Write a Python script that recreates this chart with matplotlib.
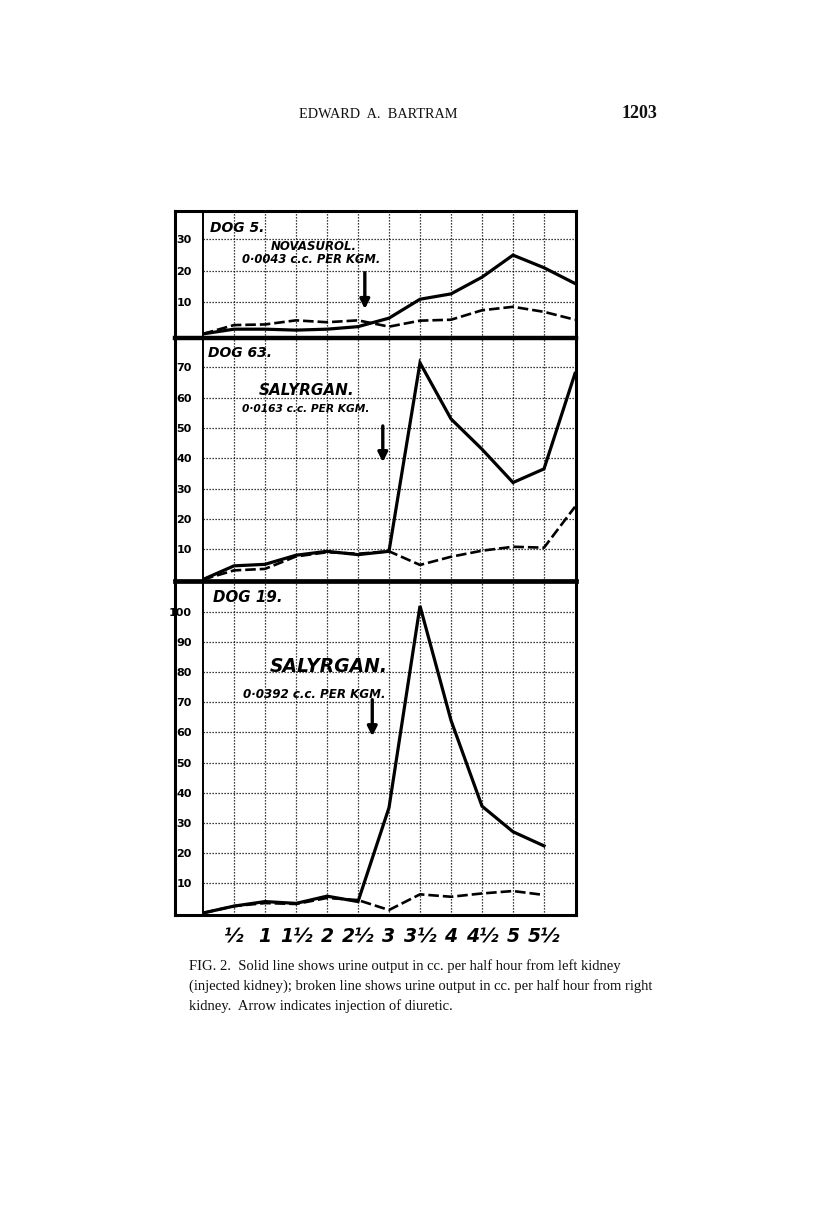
import matplotlib
matplotlib.use("Agg")
from matplotlib import pyplot as plt
from matplotlib.lines import Line2D
from matplotlib.transforms import Affine2D

# half-hour periods
hours = [0, 0.5, 1, 1.5, 2, 2.5, 3, 3.5, 4, 4.5, 5, 5.5, 6]
hour_labels = ['½', '1', '1½', '2', '2½', '3', '3½', '4', '4½', '5', '5½']

# Dog 5 - Novasurol
dog5_left = [0, 1.5, 1.5, 1.2, 1.5, 2.3, 5, 11, 12.7, 18, 25, 21, 16]
dog5_right = [0, 2.8, 3, 4.3, 3.7, 4.3, 2.3, 4.2, 4.5, 7.5, 8.6, 7, 4.5]

# Dog 63 - Salyrgan
dog63_left = [0, 4.5, 5, 8, 9.3, 8.2, 9.3, 71.5, 53, 43, 32, 36.5, 68]
dog63_right = [0, 3, 3.5, 7.6, 9, 8.5, 9.3, 4.8, 7.5, 9.5, 10.8, 10.5, 24]

# Dog 19 - Salyrgan (stops at 5 1/2)
dog19_left = [0, 2.3, 3.8, 3.2, 5.6, 3.8, 35, 102, 64, 35.5, 27, 22.3]
dog19_right = [0, 2.3, 3.3, 3, 5, 4.3, 1, 6.2, 5.4, 6.5, 7.3, 6]

W, H = 816, 1207
fig = plt.figure(figsize=(W / 100, H / 100), dpi=100)
fig.patch.set_facecolor('white')
# pixel coordinates, origin top-left
px = Affine2D().scale(1 / W, -1 / H).translate(0, 1) + fig.transFigure


def box(x0, y0, x1, y1):
    return [x0 / W, 1 - y1 / H, (x1 - x0) / W, (y1 - y0) / H]


hand = dict(family='DejaVu Sans', weight='bold', style='italic', color='black')

panels = [
    dict(rows=(211, 338), ylim=(-1.3, 39), yt=[10, 20, 30],
         left=dog5_left, right=dog5_right, dog='DOG 5.', dog_size=10,
         drug='NOVASUROL.', drug_size=8.5,
         dose='0·0043 c.c. PER KGM.', dose_size=8.3, arrow=(2.61, 20.3, 7.0),
         dog_xy=(0.12, 31.5), drug_xy=(1.1, 27.7), dose_xy=(0.63, 23.5)),
    dict(rows=(338, 581), ylim=(-0.5, 79.7), yt=[10, 20, 30, 40, 50, 60, 70],
         left=dog63_left, right=dog63_right, dog='DOG 63.', dog_size=10,
         drug='SALYRGAN.', drug_size=11,
         dose='0·0163 c.c. PER KGM.', dose_size=7.7, arrow=(2.9, 51.6, 37.8),
         dog_xy=(0.08, 72.5), drug_xy=(0.9, 62.5), dose_xy=(0.63, 56.3)),
    dict(rows=(581, 915), ylim=(-0.66, 110.3), yt=list(range(10, 101, 10)),
         left=dog19_left, right=dog19_right, dog='DOG 19.', dog_size=10.8,
         drug='SALYRGAN.', drug_size=13.5,
         dose='0·0392 c.c. PER KGM.', dose_size=8.6, arrow=(2.73, 71.8, 57.8),
         dog_xy=(0.16, 102.3), drug_xy=(1.08, 82), dose_xy=(0.64, 72.5)),
]

axes = []
for i, p in enumerate(panels):
    ax = fig.add_axes(box(203, p['rows'][0], 575, p['rows'][1]))
    ax.set_xlim(0, 6)
    ax.set_ylim(*p['ylim'])
    n = len(p['left'])
    ax.plot(hours[:n], p['left'], color='black', lw=2.3, solid_joinstyle='miter')
    ax.plot(hours[:n], p['right'], color='black', lw=1.9, linestyle=(0, (4, 1.5)))
    ax.set_xticks(hours[1:-1])
    ax.set_yticks(p['yt'])
    ax.set_yticklabels([str(v) for v in p['yt']], fontsize=8, fontweight='bold')
    ax.grid(True, linestyle=(0, (1, 1.4)), color='black', lw=0.9)
    ax.tick_params(axis='y', length=0, pad=8)
    ax.tick_params(axis='x', length=0, pad=9)
    if i < 2:
        ax.set_xticklabels([])
    else:
        ax.set_xticklabels(hour_labels, fontsize=13.5, fontweight='bold', style='italic')
    for s in ax.spines.values():
        s.set_visible(False)
    ax.set_facecolor('none')

    ax.text(*p['dog_xy'], p['dog'], fontsize=p['dog_size'], ha='left', va='bottom', **hand)
    ax.text(*p['drug_xy'], p['drug'], fontsize=p['drug_size'], ha='left', va='center', **hand)
    ax.text(*p['dose_xy'], p['dose'], fontsize=p['dose_size'], ha='left', va='center', **hand)
    ax_x, y0, y1 = p['arrow']
    ax.annotate('', xy=(ax_x, y1), xytext=(ax_x, y0),
                arrowprops=dict(arrowstyle='-|>', lw=2.4, color='black', mutation_scale=14))
    axes.append(ax)

# frame of the figure: outer box, panel dividers and label column
frame = [((175, 211), (576, 211), 2.2), ((175, 915), (576, 915), 2.2),
         ((175, 211), (175, 915), 2.2), ((576, 211), (576, 915), 2.2),
         ((175, 338), (576, 338), 3.2), ((175, 581), (576, 581), 3.4),
         ((203, 211), (203, 915), 1.4)]
for (x0, y0), (x1, y1), lw in frame:
    fig.add_artist(Line2D([x0, x1], [y0, y1], transform=px, color='black', lw=lw,
                          solid_capstyle='projecting'))

# page header
serif = 'Liberation Serif'
fig.text(378, 114, 'EDWARD  A.  BARTRAM', transform=px, ha='center', va='center',
         family=serif, fontsize=10.3, color='#111111')
fig.text(657, 114, '1203', transform=px, ha='right', va='center',
         family=serif, fontsize=13, fontweight='bold', color='#111111')

# caption
caption = ['FIG. 2.  Solid line shows urine output in cc. per half hour from left kidney',
           '(injected kidney); broken line shows urine output in cc. per half hour from right',
           'kidney.  Arrow indicates injection of diuretic.']
for k, line in enumerate(caption):
    fig.text(189, 966 + 20 * k, line, transform=px, ha='left', va='center',
             family=serif, fontsize=10.5, color='#111111')

fig.savefig('out.png', dpi=100, facecolor='white')
